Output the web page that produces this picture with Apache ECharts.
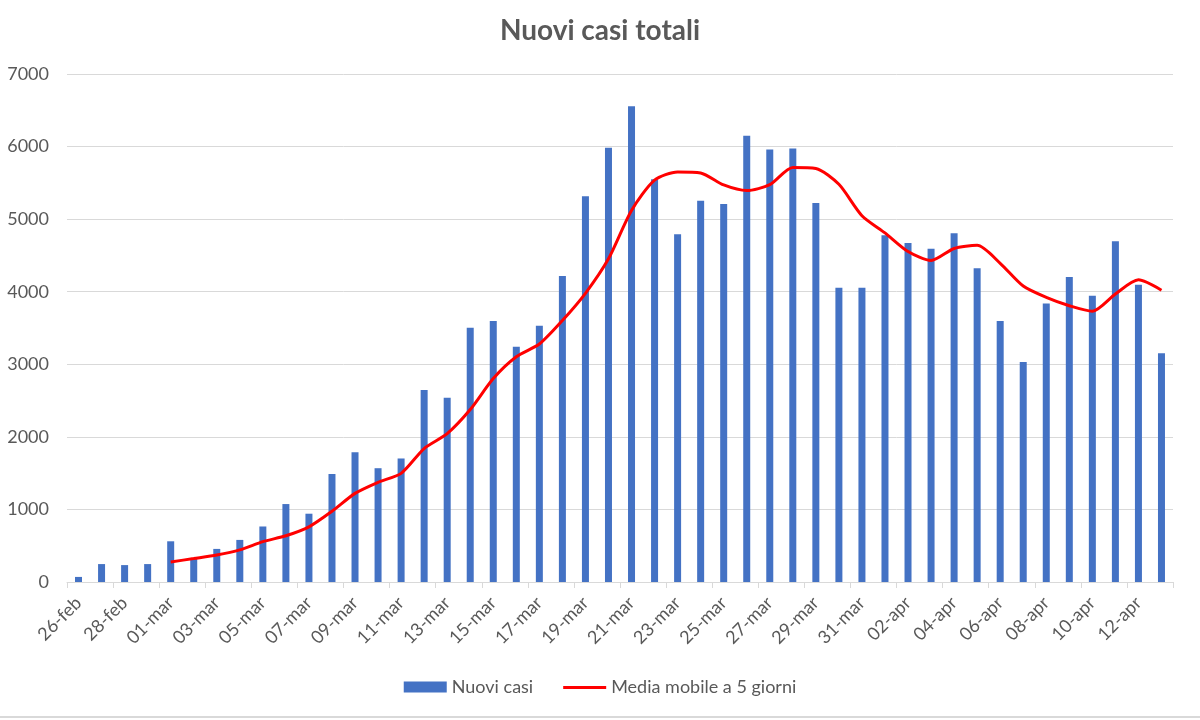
<!DOCTYPE html>
<html>
<head>
<meta charset="utf-8">
<script src="https://cdn.jsdelivr.net/npm/echarts@6/dist/echarts.min.js"></script>
<style>html,body{margin:0;padding:0;background:#fff;}#c{width:1200px;height:720px;}</style>
</head>
<body>
<div id="c"></div>
<script>
const categories = ['26-feb','27-feb','28-feb','29-feb',
 '01-mar','02-mar','03-mar','04-mar','05-mar','06-mar','07-mar','08-mar','09-mar','10-mar',
 '11-mar','12-mar','13-mar','14-mar','15-mar','16-mar','17-mar','18-mar','19-mar','20-mar',
 '21-mar','22-mar','23-mar','24-mar','25-mar','26-mar','27-mar','28-mar','29-mar','30-mar','31-mar',
 '01-apr','02-apr','03-apr','04-apr','05-apr','06-apr','07-apr','08-apr','09-apr','10-apr',
 '11-apr','12-apr','13-apr'];
const nuoviCasi = [70,247,233,247,
 561,330,456,580,765,1074,941,1488,1787,1568,
 1702,2647,2538,3503,3598,3241,3531,4216,5314,5984,
 6554,5551,4791,5252,5209,6150,5960,5974,5223,4054,4054,
 4777,4672,4591,4805,4325,3598,3032,3836,4202,3945,
 4696,4097,3151];
const mediaMobile = [null,null,null,null,
 276,323,371,442,556,637,760,974,1221,1374,
 1497,1839,2044,2376,2804,3104,3279,3603,3978,4453,
 5119,5537,5651,5637,5471,5394,5475,5713,5699,5480,5048,
 4810,4553,4430,4596,4639,4392,4078,3922,3807,3731,
 3969,4164,4021];
const yTicks = {min:0, max:7000, interval:1000};

const FONT = 'Lato, "Open Sans", sans-serif';
const TXT = '#595959';
const chart = echarts.init(document.getElementById('c'), null, {renderer:'canvas'});
chart.setOption({
  animation:false,
  backgroundColor:'#ffffff',
  textStyle:{fontFamily:FONT},
  title:{
    text:'Nuovi casi totali', left:'center', top:12,
    textStyle:{fontSize:28, fontWeight:'bold', color:TXT, fontFamily:FONT}
  },
  legend:{
    bottom:19, left:'center', itemGap:30, itemWidth:43, itemHeight:11,
    textStyle:{fontSize:18, color:TXT, fontFamily:FONT},
    data:[
      {name:'Nuovi casi', icon:'rect'},
      {name:'Media mobile a 5 giorni', icon:'path://M0,0 M0,4.5h43v3h-43z M43,11', itemStyle:{color:'#ff0000'}}
    ]
  },
  grid:{left:67, right:27, top:74, bottom:138, containLabel:false},
  xAxis:{
    type:'category', data:categories, boundaryGap:true,
    axisLine:{lineStyle:{color:'#d9d9d9', width:1}},
    axisTick:{show:true, interval:1, length:6, lineStyle:{color:'#d9d9d9'}},
    axisLabel:{interval:1, rotate:45, margin:18, fontSize:18, color:TXT, fontFamily:FONT}
  },
  yAxis:{
    type:'value', min:yTicks.min, max:yTicks.max, interval:yTicks.interval,
    axisLine:{show:false}, axisTick:{show:false},
    axisLabel:{fontSize:18, color:TXT, margin:18, fontFamily:FONT, formatter:function(v){return String(v);}},
    splitLine:{lineStyle:{color:'#d9d9d9', width:1}}
  },
  series:[
    {name:'Nuovi casi', type:'bar', data:nuoviCasi, barWidth:7,
     itemStyle:{color:'#4472c4'}},
    {name:'Media mobile a 5 giorni', type:'line', data:mediaMobile, symbol:'none',
     smooth:0.25, connectNulls:false,
     lineStyle:{color:'#ff0000', width:3}, itemStyle:{color:'#ff0000'}}
  ],
  graphic:[{type:'line', shape:{x1:0,y1:717,x2:1200,y2:717}, style:{stroke:'#d9d9d9', lineWidth:2}}]
});
</script>
</body>
</html>
